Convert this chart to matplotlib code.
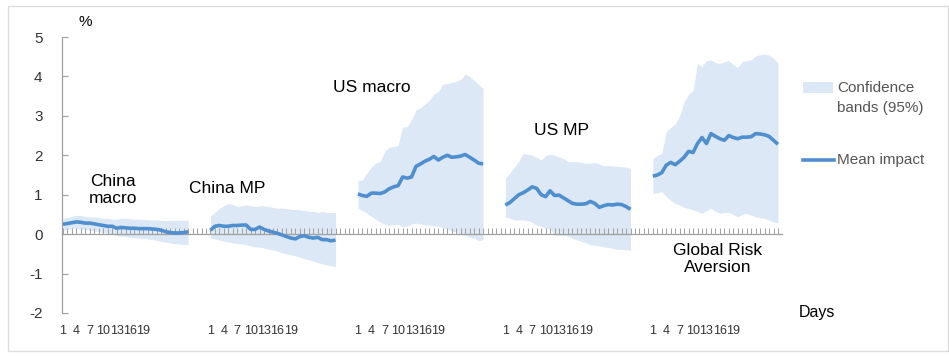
import matplotlib
matplotlib.use("Agg")
import matplotlib.pyplot as plt
from matplotlib.patches import Rectangle
from matplotlib.lines import Line2D
import numpy as np

plt.rcParams['font.family'] = ['Liberation Sans', 'DejaVu Sans']

# ------------------------------------------------------------
# Data, 29 days per shock
# ------------------------------------------------------------
shock_names = ["China\nmacro", "China MP", "US macro", "US MP", "Global Risk\nAversion"]
day_labels = ["1", "4", "7", "10", "13", "16", "19"]
y_ticks = [-2, -1, 0, 1, 2, 3, 4, 5]

china_macro_mean = [0.25, 0.27, 0.29, 0.31, 0.30, 0.28, 0.28, 0.26, 0.24, 0.22,
                    0.20, 0.20, 0.15, 0.17, 0.16, 0.15, 0.15, 0.14, 0.14, 0.14,
                    0.13, 0.12, 0.10, 0.06, 0.04, 0.03, 0.03, 0.04, 0.06]
china_macro_hi = [0.40, 0.42, 0.45, 0.48, 0.47, 0.45, 0.44, 0.43, 0.42, 0.40,
                  0.40, 0.38, 0.38, 0.40, 0.40, 0.39, 0.38, 0.38, 0.37, 0.37,
                  0.36, 0.36, 0.35, 0.34, 0.35, 0.35, 0.35, 0.35, 0.36]
china_macro_lo = [0.10, 0.12, 0.14, 0.15, 0.13, 0.11, 0.10, 0.08, 0.06, 0.04,
                  0.02, 0.00, -0.04, -0.05, -0.06, -0.08, -0.09, -0.10, -0.11, -0.12,
                  -0.14, -0.16, -0.18, -0.20, -0.22, -0.24, -0.25, -0.26, -0.27]

china_mp_mean = [0.10, 0.20, 0.22, 0.20, 0.20, 0.22, 0.22, 0.23, 0.23, 0.12,
                 0.12, 0.18, 0.12, 0.08, 0.05, 0.02, -0.02, -0.06, -0.10, -0.12,
                 -0.06, -0.04, -0.08, -0.10, -0.08, -0.14, -0.14, -0.17, -0.15]
china_mp_hi = [0.45, 0.55, 0.65, 0.72, 0.78, 0.75, 0.70, 0.72, 0.74, 0.72,
               0.70, 0.72, 0.72, 0.70, 0.68, 0.66, 0.66, 0.65, 0.63, 0.62,
               0.62, 0.60, 0.58, 0.58, 0.55, 0.57, 0.55, 0.55, 0.55]
china_mp_lo = [-0.10, -0.12, -0.15, -0.17, -0.20, -0.22, -0.24, -0.25, -0.27, -0.30,
               -0.32, -0.33, -0.35, -0.38, -0.40, -0.43, -0.47, -0.50, -0.52, -0.55,
               -0.58, -0.62, -0.65, -0.68, -0.72, -0.75, -0.78, -0.80, -0.83]

us_macro_mean = [1.02, 0.98, 0.96, 1.04, 1.04, 1.03, 1.07, 1.15, 1.20, 1.23,
                 1.45, 1.42, 1.45, 1.72, 1.78, 1.85, 1.90, 1.97, 1.88, 1.95,
                 2.00, 1.95, 1.96, 1.98, 2.02, 1.95, 1.88, 1.80, 1.78]
us_macro_hi = [1.37, 1.37, 1.55, 1.70, 1.80, 1.85, 2.10, 2.20, 2.22, 2.25,
               2.72, 2.72, 2.90, 3.15, 3.20, 3.30, 3.40, 3.55, 3.62, 3.80,
               3.82, 3.85, 3.88, 3.92, 4.06, 4.00, 3.90, 3.80, 3.70]
us_macro_lo = [0.66, 0.60, 0.53, 0.45, 0.38, 0.30, 0.25, 0.23, 0.24, 0.25,
               0.19, 0.20, 0.26, 0.28, 0.26, 0.24, 0.23, 0.22, 0.20, 0.16,
               0.13, 0.08, 0.05, 0.00, -0.03, -0.07, -0.10, -0.17, -0.14]

us_mp_mean = [0.74, 0.80, 0.90, 1.00, 1.05, 1.12, 1.20, 1.16, 1.00, 0.95,
              1.10, 0.98, 0.99, 0.92, 0.85, 0.78, 0.76, 0.76, 0.77, 0.83,
              0.78, 0.68, 0.72, 0.75, 0.74, 0.76, 0.75, 0.70, 0.63]
us_mp_hi = [1.42, 1.55, 1.70, 1.85, 2.05, 2.02, 2.00, 1.95, 1.88, 2.00,
            2.03, 2.00, 1.96, 1.92, 1.84, 1.84, 1.83, 1.82, 1.80, 1.80,
            1.82, 1.78, 1.73, 1.74, 1.73, 1.72, 1.71, 1.70, 1.67]
us_mp_lo = [0.44, 0.40, 0.36, 0.36, 0.36, 0.34, 0.30, 0.23, 0.20, 0.15,
            0.13, -0.03, -0.03, -0.03, -0.05, -0.10, -0.15, -0.18, -0.22, -0.27,
            -0.28, -0.30, -0.32, -0.34, -0.36, -0.38, -0.39, -0.40, -0.41]

gra_mean = [1.47, 1.50, 1.56, 1.75, 1.82, 1.76, 1.85, 1.95, 2.10, 2.07,
            2.30, 2.45, 2.30, 2.55, 2.48, 2.42, 2.38, 2.50, 2.45, 2.42,
            2.46, 2.46, 2.47, 2.55, 2.54, 2.52, 2.48, 2.38, 2.28]
gra_hi = [1.92, 2.00, 2.05, 2.60, 2.70, 2.80, 3.00, 3.36, 3.55, 3.65,
          4.33, 4.25, 4.40, 4.42, 4.35, 4.33, 4.37, 4.40, 4.30, 4.23,
          4.38, 4.40, 4.42, 4.52, 4.55, 4.57, 4.54, 4.46, 4.33]
gra_lo = [1.03, 1.05, 1.07, 0.95, 0.86, 0.78, 0.74, 0.68, 0.65, 0.61,
          0.58, 0.53, 0.60, 0.66, 0.58, 0.53, 0.55, 0.55, 0.50, 0.44,
          0.50, 0.53, 0.48, 0.44, 0.42, 0.40, 0.36, 0.31, 0.29]

means = [china_macro_mean, china_mp_mean, us_macro_mean, us_mp_mean, gra_mean]
highs = [china_macro_hi, china_mp_hi, us_macro_hi, us_mp_hi, gra_hi]
lows = [china_macro_lo, china_mp_lo, us_macro_lo, us_mp_lo, gra_lo]

# ------------------------------------------------------------
# Style / layout
# ------------------------------------------------------------
line_color = "#4f8fcf"
band_color = "#dce8f5"
axis_gray = "#a0a0a0"
n_days = 29
block = 33          # categories per shock block (29 days + 4 blank)

W, H = 949, 356
fig = plt.figure(figsize=(W / 100, H / 100), dpi=100)
ax = fig.add_axes([62 / W, 43 / H, 720 / W, 276 / H])

for g in range(len(shock_names)):
    x = g * block + np.arange(n_days)
    ax.fill_between(x, lows[g], highs[g], color=band_color, linewidth=0, zorder=1)
    ax.plot(x, means[g], color=line_color, linewidth=2.6, solid_capstyle="butt", zorder=3)

# shock names
name_pos = [(11.2, 1.12), (36.7, 1.17), (69.1, 3.73), (111.6, 2.64), (146.5, -0.63)]
for name, (xp, yp) in zip(shock_names, name_pos):
    ax.text(xp, yp, name, ha="center", va="center", fontsize=12.5,
            color="black", linespacing=1.15, zorder=4)

ax.set_xlim(-0.22, 160.9)
ax.set_ylim(-2, 5)

# axes: y spine on the left, x axis along zero with small upward ticks
for s in ["top", "right"]:
    ax.spines[s].set_visible(False)
ax.spines["left"].set_color(axis_gray)
ax.spines["bottom"].set_color(axis_gray)
ax.spines["bottom"].set_position(("data", 0))
ax.spines["left"].set_linewidth(0.9)
ax.spines["bottom"].set_linewidth(0.9)

ax.set_yticks(y_ticks)
ax.set_yticklabels([str(v) for v in y_ticks])
ax.tick_params(axis="y", direction="in", length=4, color=axis_gray,
               labelsize=11, labelcolor="#333333", pad=14)
ax.set_xticks(np.arange(0, 161))
ax.tick_params(axis="x", direction="in", length=4, width=0.7, color=axis_gray,
               labelbottom=False)

# day labels at the bottom of the plot area
lab_pos = [g * block + int(d) - 1 for g in range(len(shock_names)) for d in day_labels]
secax = ax.secondary_xaxis(0.0)
secax.set_xticks(lab_pos)
secax.set_xticklabels(day_labels * len(shock_names))
secax.tick_params(length=0, labelsize=9, labelcolor="#333333", pad=9)
secax.spines["bottom"].set_visible(False)

fig.text(85 / W, 1 - 22 / H, "%", fontsize=11, ha="center", va="center")
fig.text(817 / W, 1 - 313 / H, "Days", fontsize=11.5, ha="center", va="center")

# legend drawn by hand
fig.patches.append(Rectangle((803 / W, 1 - 93 / H), 30 / W, 11 / H,
                             transform=fig.transFigure, facecolor=band_color,
                             edgecolor="none"))
fig.text(837 / W, 1 - 88 / H, "Confidence", fontsize=11, color="#555555",
         ha="left", va="center")
fig.text(837 / W, 1 - 108 / H, "bands (95%)", fontsize=11, color="#555555",
         ha="left", va="center")
fig.lines.append(Line2D([803 / W, 834 / W], [1 - 160 / H, 1 - 160 / H],
                        transform=fig.transFigure, color=line_color, linewidth=2.6))
fig.text(837 / W, 1 - 160 / H, "Mean impact", fontsize=11, color="#555555",
         ha="left", va="center")

# light frame around the whole picture
fig.patches.append(Rectangle((7.5 / W, 5.5 / H), 940 / W, 345 / H,
                             transform=fig.transFigure, facecolor="none",
                             edgecolor="#dddddd", linewidth=1))

fig.savefig("out.png", dpi=100)
